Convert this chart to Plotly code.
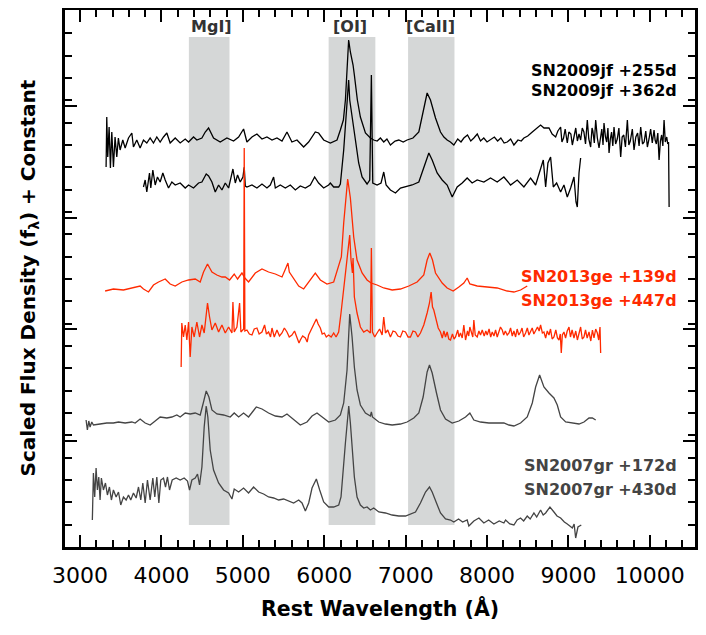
import plotly.graph_objects as go

# ---- spectra (rest wavelength in A, scaled flux + constant) ----
# SN2009jf +255d as (wavelength, flux) pairs
jf255 = [(3320, 38.0), (3328, 43.0), (3340, 39.0), (3357, 42.0), (3373, 37.9), (3390, 41.5),
         (3410, 38.0), (3430, 41.0), (3451, 39.0), (3471, 40.9), (3492, 39.7), (3525, 40.7),
         (3554, 39.9), (3595, 40.9), (3636, 41.4), (3656, 40.0), (3697, 40.7), (3738, 39.9),
         (3779, 40.7), (3820, 40.4), (3861, 40.9), (3902, 40.4), (3943, 41.0), (3984, 40.5),
         (4025, 41.0), (4066, 41.4), (4107, 40.4), (4169, 40.9), (4230, 40.4), (4292, 40.8),
         (4333, 40.5), (4394, 41.0), (4435, 40.7), (4497, 40.9), (4538, 41.5), (4579, 41.9),
         (4640, 40.9), (4722, 40.5), (4804, 40.9), (4886, 40.6), (4948, 41.0), (5009, 41.8),
         (5050, 40.5), (5112, 41.0), (5173, 41.3), (5235, 40.8), (5296, 41.0), (5358, 40.7),
         (5419, 40.9), (5481, 40.6), (5542, 41.5), (5603, 40.5), (5665, 40.7), (5747, 40.0),
         (5808, 40.5), (5890, 41.5), (5931, 41.4), (5993, 40.7), (6075, 40.4), (6157, 40.7),
         (6198, 41.7), (6235, 42.7), (6260, 44.7), (6284, 48.7), (6300, 50.7), (6321, 49.5),
         (6354, 48.2), (6370, 47.2), (6407, 44.7), (6444, 43.0), (6506, 41.4), (6567, 40.9),
         (6608, 40.7), (6650, 40.6), (6690, 40.9), (6731, 40.5), (6770, 40.8), (6813, 40.2),
         (6870, 40.6), (6916, 40.7), (6970, 40.5), (7018, 40.7), (7090, 40.9), (7162, 41.5),
         (7223, 43.7), (7264, 45.4), (7305, 44.7), (7367, 42.9), (7428, 41.5), (7470, 41.0),
         (7510, 40.7), (7550, 40.5), (7592, 40.2), (7640, 40.8), (7680, 40.5), (7715, 40.9),
         (7760, 41.2), (7800, 40.6), (7838, 40.9), (7880, 41.3), (7920, 40.6), (7960, 40.9),
         (8000, 40.5), (8043, 40.7), (8090, 41.0), (8130, 40.6), (8170, 40.9), (8210, 40.4),
         (8248, 40.5), (8290, 40.8), (8330, 40.2), (8380, 40.7), (8420, 40.6), (8453, 40.9),
         (8500, 41.1), (8556, 41.5), (8600, 41.8), (8658, 42.2), (8700, 41.9), (8761, 41.9),
         (8800, 41.3), (8843, 41.0), (8870, 41.6), (8904, 42.0), (8920, 40.5), (8940, 40.9),
         (8960, 41.8), (8986, 40.4), (9005, 41.5), (9030, 41.3), (9048, 40.2), (9068, 41.2),
         (9090, 41.9), (9110, 40.6), (9130, 41.3), (9150, 40.7), (9170, 41.9), (9190, 41.5),
         (9210, 40.3), (9232, 42.7), (9250, 40.8), (9273, 40.0), (9290, 41.9), (9300, 41.6),
         (9318, 40.4), (9335, 42.7), (9355, 40.9), (9376, 39.9), (9395, 41.3), (9410, 41.8),
         (9425, 40.2), (9437, 42.4), (9455, 41.0), (9470, 40.5), (9485, 41.9), (9499, 39.4),
         (9515, 40.8), (9530, 41.5), (9545, 40.1), (9560, 42.0), (9580, 40.3), (9600, 40.8),
         (9620, 41.9), (9642, 39.0), (9660, 41.0), (9680, 41.2), (9700, 40.0), (9724, 42.7),
         (9742, 40.2), (9760, 40.6), (9785, 41.8), (9806, 39.7), (9828, 41.0), (9850, 41.4),
         (9868, 40.1), (9888, 42.0), (9910, 40.3), (9930, 40.5), (9950, 41.6), (9970, 40.0),
         (9990, 40.8), (10010, 41.8), (10030, 40.4), (10052, 41.7), (10065, 40.7), (10080, 40.3),
         (10098, 41.4), (10114, 38.7), (10130, 40.6), (10145, 41.2), (10160, 40.1), (10175, 42.7),
         (10190, 40.5), (10208, 41.0), (10220, 40.3), (10230, 40.5), (10237, 34.0)]

jf362_wave = [3779, 3800, 3820, 3853, 3869, 3894, 3923, 3951, 3984, 4017, 4046, 4087, 4128, 4169,
              4230, 4292, 4333, 4394, 4456, 4497, 4550, 4579, 4620, 4661, 4702, 4743, 4784, 4825,
              4878, 4907, 4935, 4968, 5001, 5017, 5030, 5050, 5112, 5173, 5235, 5296, 5337, 5378,
              5399, 5460, 5522, 5583, 5645, 5706, 5768, 5829, 5882, 5931, 5993, 6054, 6075, 6116,
              6177, 6198, 6239, 6272, 6300, 6313, 6341, 6353, 6383, 6423, 6465, 6526, 6559, 6579,
              6596, 6649, 6698, 6731, 6760, 6813, 6875, 6936, 7018, 7080, 7162, 7223, 7285, 7326,
              7387, 7449, 7510, 7572, 7633, 7695, 7756, 7817, 7879, 7961, 8043, 8125, 8207, 8289,
              8371, 8453, 8535, 8597, 8658, 8691, 8720, 8748, 8781, 8814, 8855, 8904, 8945, 8986,
              9027, 9068, 9093, 9109, 9130, 9150]
jf362_flux = [36.0, 36.7, 35.5, 37.4, 35.9, 37.7, 36.2, 37.0, 36.5, 37.4, 36.7, 35.9, 36.5, 36.2,
              36.4, 35.9, 36.2, 35.9, 36.4, 36.5, 37.3, 37.1, 36.5, 35.5, 36.2, 35.7, 36.4, 35.9,
              37.8, 36.4, 37.2, 36.5, 37.0, 38.0, 36.1, 36.0, 36.2, 35.9, 36.3, 35.9, 36.2, 37.0,
              35.9, 36.2, 35.9, 36.2, 35.7, 36.1, 35.9, 36.2, 37.0, 36.4, 35.9, 36.2, 36.4, 36.0,
              36.0, 36.3, 39.7, 43.7, 46.7, 44.7, 43.2, 42.7, 40.7, 38.4, 37.0, 36.3, 36.7, 47.2,
              36.4, 36.2, 36.4, 37.5, 36.2, 35.7, 35.4, 35.9, 36.1, 36.2, 36.5, 38.0, 39.4, 38.7,
              37.4, 36.7, 36.2, 35.0, 36.0, 36.4, 36.9, 36.4, 36.7, 36.5, 36.9, 36.5, 37.0, 36.2,
              36.7, 36.0, 36.9, 36.2, 38.0, 38.7, 36.0, 38.4, 39.0, 36.0, 36.4, 35.5, 36.2, 35.0,
              35.9, 37.0, 34.5, 34.0, 37.4, 38.9]

ge139_wave = [3308, 3410, 3533, 3656, 3738, 3779, 3841, 3902, 3964, 4046, 4107, 4169, 4251, 4333,
              4415, 4476, 4517, 4566, 4620, 4681, 4743, 4784, 4837, 4894, 4935, 4989, 5025, 5070,
              5153, 5235, 5316, 5399, 5481, 5513, 5554, 5571, 5624, 5686, 5747, 5829, 5890, 5952,
              6034, 6116, 6210, 6239, 6272, 6288, 6321, 6362, 6403, 6465, 6526, 6575, 6649, 6731,
              6834, 6936, 7039, 7141, 7223, 7264, 7297, 7330, 7367, 7449, 7510, 7584, 7654, 7715,
              7756, 7789, 7879, 8002, 8125, 8248, 8330, 8412, 8494]
ge139_flux = [25.6, 25.8, 25.7, 25.9, 26.1, 25.8, 25.5, 26.2, 26.5, 26.8, 26.3, 26.1, 26.5, 26.7,
              26.8, 26.5, 27.5, 28.3, 27.5, 27.2, 27.0, 27.0, 26.7, 27.3, 26.8, 27.4, 26.9, 26.5,
              27.4, 27.8, 27.5, 27.3, 27.0, 27.6, 28.4, 27.5, 26.9, 26.1, 25.8, 26.7, 27.4, 26.7,
              26.3, 26.5, 29.0, 32.4, 35.7, 36.8, 34.9, 31.0, 28.7, 27.4, 26.7, 26.4, 26.2, 25.9,
              25.7, 25.8, 26.1, 26.5, 27.2, 28.7, 29.4, 28.7, 27.4, 26.4, 25.9, 25.6, 26.0, 26.4,
              26.9, 26.3, 26.1, 26.0, 25.9, 25.6, 25.5, 25.7, 26.1]

# SN2013ge +447d as (wavelength, flux) pairs
ge447 = [(4242, 18.0), (4250, 22.4), (4271, 21.0), (4292, 22.2), (4312, 20.7), (4333, 22.5),
         (4353, 19.0), (4374, 22.0), (4402, 21.0), (4435, 22.5), (4468, 21.0), (4497, 22.2),
         (4525, 21.4), (4550, 23.4), (4566, 24.4), (4591, 23.0), (4620, 21.7), (4661, 22.4),
         (4702, 21.5), (4743, 22.2), (4784, 21.4), (4825, 22.0), (4866, 21.4), (4878, 24.5),
         (4894, 21.5), (4927, 22.0), (4960, 24.4), (4976, 21.5), (5010, 21.8), (5017, 39.9),
         (5025, 21.6), (5050, 21.7), (5080, 21.3), (5112, 21.2), (5140, 21.8), (5173, 21.9),
         (5200, 21.3), (5235, 21.5), (5267, 22.2), (5290, 21.3), (5316, 21.5), (5340, 21.0),
         (5358, 21.9), (5386, 21.0), (5419, 21.7), (5450, 21.1), (5481, 21.4), (5510, 21.9),
         (5542, 21.5), (5570, 21.0), (5603, 21.2), (5635, 21.6), (5665, 20.9), (5690, 20.4),
         (5706, 20.7), (5735, 21.1), (5768, 20.9), (5790, 20.5), (5808, 21.2), (5849, 21.9),
         (5875, 22.2), (5903, 22.8), (5925, 22.3), (5952, 21.9), (5975, 21.3), (6001, 21.4),
         (6025, 21.0), (6054, 21.2), (6085, 21.0), (6116, 21.4), (6145, 21.0), (6177, 21.5),
         (6206, 23.4), (6260, 27.4), (6301, 30.4), (6313, 31.2), (6329, 28.7), (6346, 27.4),
         (6354, 28.9), (6370, 25.0), (6403, 23.4), (6444, 22.0), (6485, 21.5), (6526, 21.7),
         (6567, 21.4), (6579, 29.9), (6592, 21.5), (6620, 21.0), (6649, 21.4), (6680, 21.8),
         (6711, 21.2), (6731, 23.0), (6752, 21.4), (6780, 21.7), (6813, 21.0), (6845, 21.6),
         (6875, 21.5), (6905, 21.1), (6936, 21.0), (6965, 21.6), (6998, 21.5), (7030, 21.0),
         (7059, 21.0), (7090, 21.6), (7121, 21.5), (7150, 21.0), (7182, 21.4), (7223, 22.2),
         (7264, 23.4), (7293, 24.4), (7313, 25.5), (7330, 24.0), (7346, 23.7), (7379, 22.5),
         (7400, 21.9), (7428, 21.5), (7450, 20.9), (7470, 21.6), (7490, 21.0), (7510, 21.5),
         (7530, 20.8), (7551, 20.7), (7575, 21.3), (7595, 20.8), (7613, 21.0), (7640, 21.7),
         (7655, 21.0), (7674, 21.4), (7695, 20.9), (7715, 22.2), (7725, 21.3), (7736, 20.7),
         (7760, 21.6), (7775, 21.1), (7789, 22.0), (7810, 21.3), (7825, 21.0), (7838, 22.7),
         (7855, 21.2), (7879, 21.0), (7900, 21.6), (7920, 21.2), (7941, 21.7), (7965, 21.1),
         (7985, 21.6), (8002, 21.2), (8025, 21.8), (8045, 21.0), (8064, 21.5), (8085, 21.1),
         (8105, 21.7), (8125, 21.0), (8145, 21.5), (8165, 22.0), (8187, 21.7), (8205, 21.2),
         (8225, 21.6), (8248, 21.2), (8270, 21.4), (8289, 21.9), (8310, 21.1), (8330, 21.6),
         (8351, 21.0), (8370, 21.8), (8390, 21.2), (8412, 21.5), (8430, 21.9), (8450, 21.0),
         (8474, 21.4), (8495, 21.9), (8515, 21.2), (8535, 21.5), (8555, 21.9), (8575, 21.3),
         (8597, 21.7), (8620, 22.0), (8640, 21.6), (8658, 22.2), (8680, 21.4), (8699, 21.5),
         (8720, 20.9), (8740, 21.6), (8761, 21.2), (8780, 21.8), (8800, 20.8), (8822, 21.0),
         (8845, 21.7), (8865, 20.9), (8884, 20.7), (8900, 21.3), (8912, 19.4), (8925, 21.2),
         (8945, 21.5), (8965, 20.9), (8985, 21.6), (9007, 22.0), (9025, 21.0), (9045, 21.7),
         (9068, 20.9), (9090, 21.6), (9110, 20.7), (9130, 21.4), (9150, 22.0), (9170, 20.8),
         (9191, 21.0), (9210, 21.7), (9230, 20.9), (9253, 21.5), (9275, 20.6), (9295, 21.7),
         (9314, 20.9), (9335, 21.8), (9355, 21.4), (9372, 20.7), (9388, 22.0), (9396, 19.4)]

gr172_wave = [3074, 3090, 3107, 3123, 3144, 3164, 3246, 3328, 3410, 3472, 3554, 3636, 3677, 3738,
              3800, 3861, 3923, 3984, 4066, 4128, 4189, 4230, 4292, 4353, 4415, 4476, 4517, 4550,
              4583, 4620, 4681, 4763, 4845, 4894, 4948, 5009, 5070, 5112, 5165, 5235, 5316, 5399,
              5481, 5542, 5604, 5706, 5788, 5850, 5911, 5973, 6055, 6137, 6198, 6239, 6280, 6313,
              6342, 6370, 6403, 6444, 6506, 6567, 6579, 6592, 6670, 6752, 6834, 6936, 7018, 7100,
              7162, 7215, 7264, 7293, 7326, 7379, 7428, 7490, 7572, 7654, 7736, 7789, 7838, 7920,
              8023, 8125, 8207, 8269, 8330, 8412, 8494, 8556, 8597, 8646, 8699, 8761, 8822, 8863,
              8904, 8966, 9048, 9130, 9191, 9253, 9294, 9335]
gr172_flux = [12.7, 11.7, 12.6, 12.0, 12.5, 12.2, 12.3, 12.4, 12.4, 12.5, 12.4, 12.5, 12.4, 12.8,
              12.4, 12.2, 12.6, 13.0, 12.9, 13.0, 13.2, 13.0, 13.4, 13.3, 13.4, 13.2, 14.5, 15.6,
              15.0, 13.7, 13.3, 13.2, 13.0, 13.4, 13.0, 13.4, 13.0, 13.5, 14.0, 13.8, 13.4, 13.1,
              13.0, 13.3, 12.9, 12.2, 12.5, 13.1, 13.4, 13.0, 12.5, 12.7, 13.2, 14.4, 17.7, 23.3,
              21.0, 18.0, 15.7, 14.2, 13.4, 13.1, 13.5, 13.0, 12.5, 12.3, 12.2, 12.3, 12.5, 12.9,
              13.4, 15.0, 17.5, 18.2, 17.4, 15.4, 13.7, 12.8, 12.4, 12.6, 13.0, 13.4, 12.7, 12.5,
              12.4, 12.4, 12.4, 12.2, 12.1, 12.4, 13.0, 14.4, 16.0, 17.2, 16.0, 15.4, 14.9, 14.2,
              13.0, 12.5, 12.4, 12.3, 12.5, 12.9, 12.9, 12.7]

gr430_wave = [3151, 3164, 3180, 3197, 3213, 3230, 3246, 3262, 3287, 3312, 3336, 3361, 3385, 3410,
              3443, 3472, 3500, 3533, 3566, 3595, 3623, 3656, 3689, 3718, 3746, 3771, 3800, 3828,
              3861, 3894, 3918, 3943, 3968, 3992, 4025, 4050, 4074, 4099, 4132, 4181, 4230, 4279,
              4320, 4345, 4374, 4415, 4443, 4468, 4497, 4525, 4550, 4570, 4599, 4640, 4702, 4763,
              4825, 4866, 4894, 4948, 5009, 5070, 5132, 5194, 5255, 5316, 5378, 5440, 5501, 5563,
              5624, 5686, 5727, 5768, 5809, 5850, 5903, 5944, 5993, 6055, 6116, 6178, 6206, 6260,
              6301, 6321, 6346, 6370, 6403, 6444, 6485, 6526, 6567, 6608, 6670, 6752, 6834, 6916,
              6998, 7059, 7121, 7182, 7244, 7293, 7326, 7379, 7428, 7490, 7551, 7592, 7650, 7700,
              7756, 7777, 7838, 7900, 7961, 8020, 8084, 8150, 8207, 8228, 8280, 8330, 8370, 8412,
              8450, 8494, 8530, 8576, 8610, 8658, 8690, 8720, 8773, 8822, 8860, 8904, 8950, 8986,
              9048, 9070, 9089, 9117, 9158]
gr430_flux = [2.7, 7.4, 5.0, 7.9, 5.7, 7.0, 4.7, 6.9, 5.7, 6.4, 5.2, 6.0, 4.7, 5.7,
              5.0, 5.5, 4.2, 5.0, 4.7, 5.2, 4.7, 5.4, 4.9, 6.0, 4.7, 6.4, 4.4, 6.7,
              4.7, 6.9, 5.0, 7.0, 4.4, 6.7, 6.9, 6.0, 7.0, 5.7, 6.7, 6.9, 6.7, 6.9,
              6.6, 5.7, 6.7, 6.9, 7.3, 6.2, 8.0, 12.0, 14.1, 13.0, 9.7, 7.7, 6.4, 5.7,
              5.4, 4.8, 5.8, 5.5, 5.9, 5.4, 6.0, 5.5, 5.3, 5.0, 4.9, 4.7, 4.8, 4.6,
              4.4, 4.7, 4.4, 3.6, 4.4, 5.9, 6.8, 5.7, 4.5, 4.0, 4.0, 4.2, 5.0, 10.4,
              14.1, 12.4, 10.0, 7.0, 5.0, 4.2, 3.9, 4.0, 3.7, 3.9, 3.5, 3.4, 3.2, 3.1,
              3.1, 3.3, 3.5, 4.4, 5.5, 6.0, 5.5, 4.4, 3.4, 2.8, 2.7, 2.5, 2.8, 2.5,
              2.7, 2.1, 2.6, 2.9, 2.4, 2.7, 2.3, 2.6, 2.4, 2.7, 2.3, 2.2, 2.7, 2.9,
              2.6, 3.1, 2.8, 3.4, 3.0, 3.7, 3.2, 3.4, 4.0, 3.5, 3.1, 2.9, 2.5, 2.3,
              1.9, 2.3, 0.9, 2.0, 2.2]

jf255_wave, jf255_flux = [list(c) for c in zip(*jf255)]
ge447_wave, ge447_flux = [list(c) for c in zip(*ge447)]

# emission line regions (A) and labels
band_lo = [4337, 6054, 7030]
band_hi = [4836, 6628, 7600]
band_labels = ["MgI]", "[OI]", "[CaII]"]
band_label_x = [4611, 6321, 7311]

spectra = [
    ("SN2009jf +255d", jf255_wave, jf255_flux, "#000000"),
    ("SN2009jf +362d", jf362_wave, jf362_flux, "#000000"),
    ("SN2013ge +139d", ge139_wave, ge139_flux, "#ff2a00"),
    ("SN2013ge +447d", ge447_wave, ge447_flux, "#ff2a00"),
    ("SN2007gr +172d", gr172_wave, gr172_flux, "#444444"),
    ("SN2007gr +430d", gr430_wave, gr430_flux, "#444444"),
]
# label positions (right edge wavelength, flux)
label_x = 10360
label_y = [47.7, 45.7, 27.1, 24.7, 8.2, 5.8]

FONT = "DejaVu Sans"

fig = go.Figure()

for name, w, f, col in spectra:
    fig.add_trace(go.Scatter(x=w, y=f, mode="lines", name=name,
                             line=dict(color=col, width=1.3)))

for lo, hi in zip(band_lo, band_hi):
    fig.add_shape(type="rect", x0=lo, x1=hi, y0=2.2, y1=51.0, xref="x", yref="y",
                  fillcolor="rgb(213,215,215)", line=dict(width=0), layer="below")

for lab, xc in zip(band_labels, band_label_x):
    fig.add_annotation(x=xc, y=52.1, text=lab, showarrow=False,
                       font=dict(family=FONT, size=16, color="#333333", weight="bold"))

for (name, w, f, col), yy in zip(spectra, label_y):
    fig.add_annotation(x=label_x, y=yy, text=name, showarrow=False, xanchor="right",
                       font=dict(family=FONT, size=16, color=col, weight="bold"))

# axis titles
fig.add_annotation(x=0.5, y=0, xref="paper", yref="paper", yanchor="middle", yshift=-61,
                   text="Rest Wavelength (Å)", showarrow=False,
                   font=dict(family=FONT, size=20.5, color="black", weight="bold"))
fig.add_annotation(x=0, y=0.5, xref="paper", yref="paper", xanchor="center", xshift=-37,
                   textangle=-90, text="Scaled Flux Density (f<sub>λ</sub>) + Constant",
                   showarrow=False,
                   font=dict(family=FONT, size=20, color="black", weight="bold"))

fig.update_xaxes(
    range=[2815, 10555], tick0=0, dtick=1000, tickformat="d",
    ticks="inside", ticklen=12, tickwidth=2, tickcolor="black",
    minor=dict(dtick=200, ticks="inside", ticklen=7, tickwidth=1.5, tickcolor="black"),
    showline=True, linewidth=2.5, linecolor="black", mirror="ticks",
    showgrid=False, zeroline=False, automargin=False,
    tickfont=dict(family=FONT, size=22, color="black"), ticklabelstandoff=7,
)
fig.update_yaxes(
    range=[0, 53.7], tick0=10.6, dtick=11.17,
    ticks="inside", ticklen=12, tickwidth=2, tickcolor="black",
    minor=dict(dtick=2.234, ticks="inside", ticklen=7, tickwidth=1.5, tickcolor="black"),
    showline=True, linewidth=2.5, linecolor="black", mirror="ticks",
    showgrid=False, zeroline=False, showticklabels=False, automargin=False,
)

# page body adds an 8px offset, so the figure is drawn 8px smaller
fig.update_layout(
    width=698, height=627,
    margin=dict(l=57, r=11, t=2, b=88),
    plot_bgcolor="white", paper_bgcolor="white",
    showlegend=False,
    font=dict(family=FONT),
)

fig.write_html("out.html")
